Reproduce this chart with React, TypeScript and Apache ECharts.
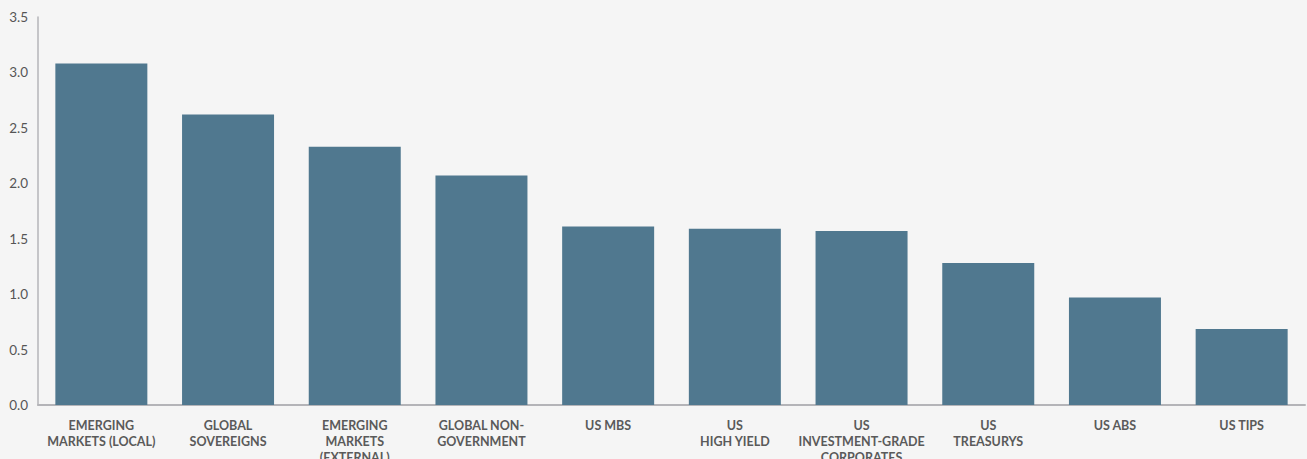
import React, { useEffect, useRef } from "react";
import * as echarts from "echarts";

const categories = [
  "EMERGING\nMARKETS (LOCAL)",
  "GLOBAL\nSOVEREIGNS",
  "EMERGING\nMARKETS\n(EXTERNAL)",
  "GLOBAL NON-\nGOVERNMENT",
  "US MBS",
  "US\nHIGH YIELD",
  "US\nINVESTMENT-GRADE\nCORPORATES",
  "US\nTREASURYS",
  "US ABS",
  "US TIPS",
];
const values = [3.08, 2.62, 2.33, 2.07, 1.61, 1.59, 1.57, 1.28, 0.97, 0.685];

export default function App() {
  const ref = useRef<HTMLDivElement>(null);
  useEffect(() => {
    if (!ref.current) return;
    const chart = echarts.init(ref.current, null, { renderer: "svg" });
    chart.setOption({
      animation: false,
      backgroundColor: "#f5f5f5",
      grid: {
        left: 38,
        right: 2,
        top: 17,
        bottom: 54,
        containLabel: false,
        outerBoundsMode: "none",
      },
      xAxis: {
        type: "category",
        data: categories,
        axisLine: { show: true, lineStyle: { color: "#b4b4b8", width: 2 } },
        axisTick: { show: false },
        axisLabel: {
          interval: 0,
          color: "#5a5a5a",
          fontFamily: "Lato",
          fontWeight: "bold",
          fontSize: 12.5,
          lineHeight: 16,
          margin: 12,
        },
      },
      yAxis: {
        type: "value",
        min: 0,
        max: 3.5,
        interval: 0.5,
        axisLine: { show: true, lineStyle: { color: "#b4b4b8", width: 1.5 } },
        axisTick: { show: false },
        splitLine: { show: false },
        axisLabel: {
          color: "#555",
          fontFamily: "Lato",
          fontSize: 13.5,
          margin: 10,
          formatter: (v: number) => v.toFixed(1),
        },
      },
      series: [
        {
          type: "bar",
          data: values,
          barWidth: 92,
          itemStyle: { color: "#50788f" },
        },
      ],
    });
    return () => chart.dispose();
  }, []);
  return (
    <div
      ref={ref}
      style={{ position: "fixed", left: 0, top: 0, width: 1307, height: 459 }}
    />
  );
}
